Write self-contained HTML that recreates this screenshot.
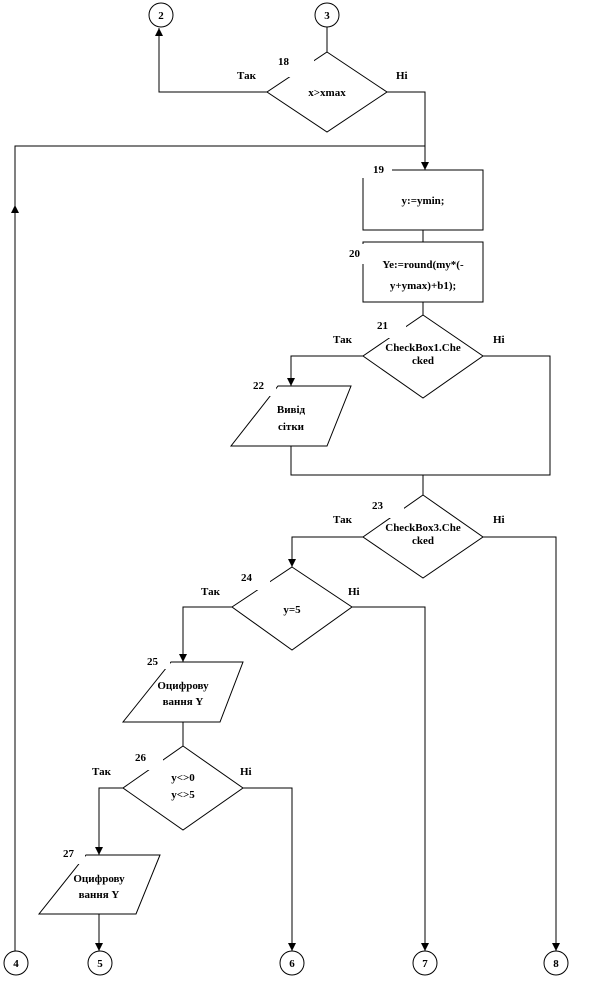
<!DOCTYPE html>
<html><head><meta charset="utf-8"><style>
html,body{margin:0;padding:0;background:#fff}
svg text{font-family:"Liberation Serif",serif;font-weight:bold;font-size:11px;fill:#000}
</style></head><body>
<svg width="603" height="987" viewBox="0 0 603 987" xmlns="http://www.w3.org/2000/svg">
<g fill="none" stroke="#000" stroke-width="1">
<circle cx="161" cy="15" r="12" fill="#fff"/><circle cx="327" cy="15" r="12" fill="#fff"/>
<circle cx="16" cy="963" r="12"/><circle cx="100" cy="963" r="12"/><circle cx="292" cy="963" r="12"/><circle cx="425" cy="963" r="12"/><circle cx="556" cy="963" r="12"/>
<line x1="327" y1="27" x2="327" y2="52"/>
<polygon points="327,52 387,92 327,132 267,92"/>
<polyline points="267,92 159,92 159,28"/>
<polyline points="387,92 425,92 425,170"/>
<polyline points="425,146 15,146 15,951"/>
<rect x="363" y="170" width="120" height="60"/>
<line x1="423" y1="230" x2="423" y2="242"/>
<rect x="363" y="242" width="120" height="60"/>
<line x1="423" y1="302" x2="423" y2="315"/>
<polygon points="423,315 483,356 423,398 363,356"/>
<polyline points="363,356 291,356 291,386"/>
<polygon points="278,386 351,386 327,446 231,446"/>
<polyline points="291,446 291,475 550,475 550,356 483,356"/>
<line x1="423" y1="475" x2="423" y2="495"/>
<polygon points="423,495 483,537 423,578 363,537"/>
<polyline points="483,537 556,537 556,951"/>
<polyline points="363,537 292,537 292,567"/>
<polygon points="292,567 352,607 292,650 232,607"/>
<polyline points="352,607 425,607 425,951"/>
<polyline points="232,607 183,607 183,662"/>
<polygon points="171,662 243,662 220,722 123,722"/>
<line x1="183" y1="722" x2="183" y2="746"/>
<polygon points="183,746 243,788 183,830 123,788"/>
<polyline points="243,788 292,788 292,951"/>
<polyline points="123,788 99,788 99,855"/>
<polygon points="86,855 160,855 136,914 39,914"/>
<polyline points="99,914 99,951"/>
</g>
<g fill="#000">
<path d="M155,36 L163,36 L159,28 z"/>
<path d="M11,213 L19,213 L15,205 z"/>
<path d="M421,162 L429,162 L425,170 z"/>
<path d="M287,378 L295,378 L291,386 z"/>
<path d="M288,559 L296,559 L292,567 z"/>
<path d="M179,654 L187,654 L183,662 z"/>
<path d="M95,847 L103,847 L99,855 z"/>
<path d="M95,943 L103,943 L99,951 z"/>
<path d="M288,943 L296,943 L292,951 z"/>
<path d="M421,943 L429,943 L425,951 z"/>
<path d="M552,943 L560,943 L556,951 z"/>
</g>
<g fill="#fff">
<rect x="276" y="52" width="38" height="25"/><rect x="360" y="160" width="32" height="18"/>
<rect x="350" y="244" width="26" height="20"/><rect x="372" y="316" width="34" height="22"/>
<rect x="250" y="378" width="26" height="18"/><rect x="370" y="496" width="34" height="22"/>
<rect x="240" y="570" width="30" height="20"/><rect x="140" y="655" width="30" height="14"/>
<rect x="133" y="750" width="30" height="20"/><rect x="55" y="848" width="30" height="16"/>
</g>
<g text-anchor="middle">
<text x="161" y="19">2</text><text x="327" y="19">3</text>
<text x="16" y="967">4</text><text x="100" y="967">5</text><text x="292" y="967">6</text><text x="425" y="967">7</text><text x="556" y="967">8</text>
<text x="327" y="96">x&gt;xmax</text>
<text x="423" y="204">y:=ymin;</text>
<text x="423" y="268">Ye:=round(my*(-</text><text x="423" y="289">y+ymax)+b1);</text>
<text x="423" y="351">CheckBox1.Che</text><text x="423" y="364">cked</text>
<text x="291" y="413">Вивід</text><text x="291" y="430">сітки</text>
<text x="423" y="531">CheckBox3.Che</text><text x="423" y="544">cked</text>
<text x="292" y="613">y=5</text>
<text x="183" y="689">Оцифрову</text><text x="183" y="705">вання Y</text>
<text x="183" y="781">y&lt;&gt;0</text><text x="183" y="798">y&lt;&gt;5</text>
<text x="99" y="882">Оцифрову</text><text x="99" y="898">вання Y</text>
</g>
<text x="278" y="65">18</text><text x="237" y="79">Так</text><text x="396" y="79">Ні</text>
<text x="373" y="173">19</text><text x="349" y="257">20</text><text x="377" y="329">21</text>
<text x="333" y="343">Так</text><text x="493" y="343">Ні</text>
<text x="253" y="389">22</text><text x="372" y="509">23</text>
<text x="333" y="523">Так</text><text x="493" y="523">Ні</text>
<text x="241" y="581">24</text><text x="201" y="595">Так</text><text x="348" y="595">Ні</text>
<text x="147" y="665">25</text><text x="135" y="761">26</text>
<text x="92" y="775">Так</text><text x="240" y="775">Ні</text>
<text x="63" y="857">27</text>
</svg>
</body></html>
